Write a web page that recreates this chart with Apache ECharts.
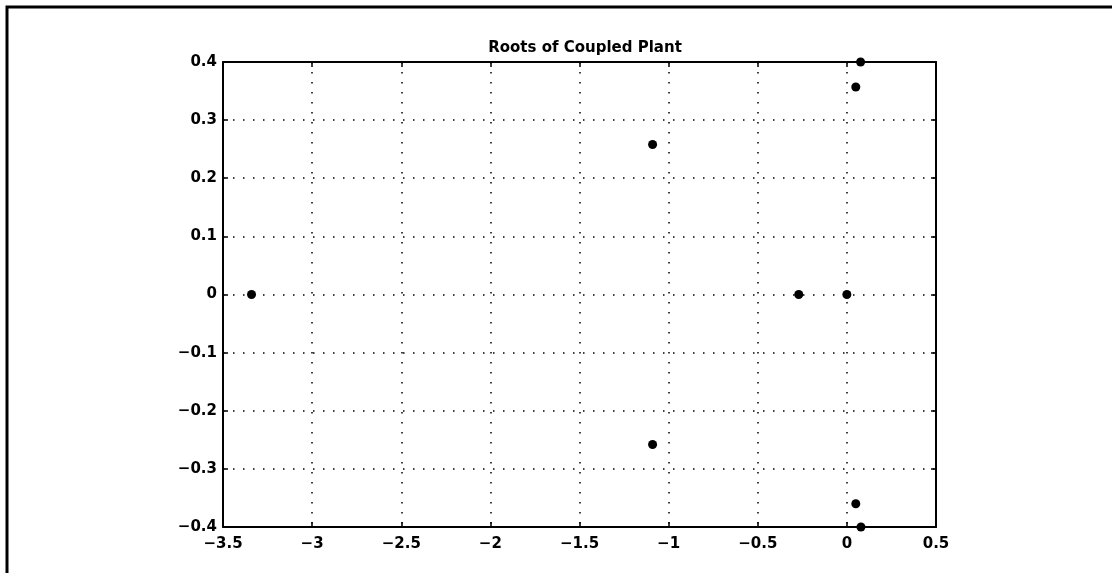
<!DOCTYPE html>
<html>
<head>
<meta charset="utf-8">
<script src="https://cdn.jsdelivr.net/npm/echarts@6/dist/echarts.min.js"></script>
<style>
  html, body { margin: 0; padding: 0; background: #fff; }
  #chart { width: 1112px; height: 573px; }
</style>
</head>
<body>
<div id="chart"></div>
<script>
var rootRe = [-3.34, -1.09, -1.09, -0.27, 0.0, 0.05, 0.05, 0.077, 0.079];
var rootIm = [0.0, 0.258, -0.258, 0.0, 0.0, 0.357, -0.36, 0.4, -0.4];

var xTicks = [-3.5, -3, -2.5, -2, -1.5, -1, -0.5, 0, 0.5];
var yTicks = [-0.4, -0.3, -0.2, -0.1, 0, 0.1, 0.2, 0.3, 0.4];

var chart = echarts.init(document.getElementById('chart'));

function fmt(v) {
    // matlab style labels with long minus
    var s = String(Math.round(v * 10) / 10);
    return s.replace('-', '\u2212');
}

var labelStyle = {
    color: '#000',
    fontFamily: 'DejaVu Sans, sans-serif',
    fontSize: 15,
    fontWeight: 'bold',
    formatter: fmt
};

function makeAxis(ticks, step, pos, main) {
    return {
        type: 'value',
        position: pos,
        min: ticks[0],
        max: ticks[ticks.length - 1],
        interval: step,
        axisLine: { show: true, onZero: false, lineStyle: { color: '#000', width: 2 } },
        axisTick: { show: true, inside: true, length: 5, lineStyle: { color: '#000', width: 1.5 } },
        splitLine: { show: main, lineStyle: { color: '#000', type: [1.5, 8.5], width: 1.5 } },
        axisLabel: Object.assign({}, labelStyle, { show: main, margin: pos === 'bottom' ? 10 : 6 })
    };
}

chart.setOption({
    backgroundColor: '#fff',
    animation: false,
    title: {
        text: 'Roots of Coupled Plant',
        left: 580,
        textAlign: 'center',
        top: 36,
        textStyle: {
            color: '#000',
            fontFamily: 'DejaVu Sans, sans-serif',
            fontSize: 15,
            fontWeight: 'bold'
        }
    },
    graphic: [{
        type: 'polyline',
        shape: { points: [[7, 573], [7, 7], [1112, 7]] },
        style: { stroke: '#000', lineWidth: 3, fill: null }
    }],
    grid: { left: 223, right: 176, top: 62, bottom: 46, containLabel: false },
    xAxis: [makeAxis(xTicks, 0.5, 'bottom', true), makeAxis(xTicks, 0.5, 'top', false)],
    yAxis: [makeAxis(yTicks, 0.1, 'left', true), makeAxis(yTicks, 0.1, 'right', false)],
    series: [{
        type: 'scatter',
        symbol: 'circle',
        symbolSize: 9,
        clip: false,
        itemStyle: { color: '#000', opacity: 1 },
        data: rootRe.map(function (r, i) { return [r, rootIm[i]]; })
    }]
});
</script>
</body>
</html>
